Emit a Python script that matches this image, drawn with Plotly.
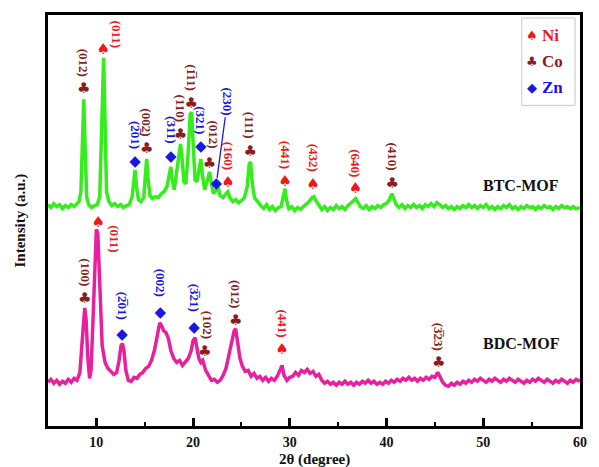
import plotly.graph_objects as go

# ---------------- XRD patterns ----------------
# BTC-MOF (upper pattern), intensity in a.u.
tt_btc = [5.0, 5.3, 5.6, 5.9, 6.2, 6.5, 6.8, 7.1, 7.4, 7.7, 8.0, 8.2, 8.4, 8.55, 8.7, 8.85, 9.0, 9.2,
          9.5, 9.8, 10.1, 10.35, 10.55, 10.75, 10.9, 11.05, 11.3, 11.6, 11.9, 12.2, 12.5, 12.8, 13.1,
          13.4, 13.7, 13.85, 14.0, 14.15, 14.35, 14.6, 14.9, 15.05, 15.2, 15.35, 15.55, 15.8, 16.1,
          16.4, 16.7, 17.0, 17.3, 17.55, 17.7, 17.85, 18.05, 18.3, 18.55, 18.7, 18.85, 19.05, 19.25,
          19.5, 19.7, 19.85, 20.0, 20.2, 20.4, 20.65, 20.8, 20.95, 21.2, 21.5, 21.7, 21.9, 22.1, 22.4,
          22.6, 22.8, 23.1, 23.4, 23.6, 23.8, 24.1, 24.4, 24.7, 25.0, 25.3, 25.6, 25.8, 25.95, 26.1,
          26.35, 26.7, 27.0, 27.3, 27.6, 27.9, 28.2, 28.5, 28.8, 29.1, 29.35, 29.5, 29.65, 29.9, 30.2,
          30.5, 30.8, 31.1, 31.4, 31.7, 32.0, 32.3, 32.5, 32.7, 33.0, 33.3, 33.6, 33.9, 34.2, 34.5,
          34.8, 35.1, 35.4, 35.7, 36.0, 36.3, 36.6, 36.8, 37.0, 37.3, 37.6, 37.9, 38.2, 38.5, 38.8,
          39.1, 39.4, 39.7, 40.0, 40.3, 40.55, 40.75, 41.0, 41.3, 41.6, 41.9, 42.2, 42.5, 42.8, 43.1,
          43.4, 43.7, 44.0, 44.3, 44.6, 44.9, 45.2, 45.5, 45.8, 46.1, 46.4, 46.7, 47.0, 47.3, 47.6,
          47.9, 48.2, 48.5, 48.8, 49.1, 49.4, 49.7, 50.0, 50.3, 50.6, 50.9, 51.2, 51.5, 51.8, 52.1,
          52.4, 52.7, 53.0, 53.3, 53.6, 53.9, 54.2, 54.5, 54.8, 55.1, 55.4, 55.7, 56.0, 56.3, 56.6,
          56.9, 57.2, 57.5, 57.8, 58.1, 58.4, 58.7, 59.0, 59.3, 59.6, 60.0]
int_btc = [17, 14, 18, 15, 17, 13, 16, 14, 17, 15, 18, 20, 30, 80, 123, 70, 25, 17,
           14, 16, 17, 25, 100, 165, 100, 30, 20, 16, 18, 15, 17, 14, 16,
           17, 25, 40, 52, 35, 22, 20, 24, 45, 63, 42, 26, 23, 25,
           24, 28, 30, 35, 48, 55, 42, 32, 50, 70, 78, 65, 40, 38,
           70, 108, 110, 80, 42, 40, 55, 63, 48, 32, 42, 50, 38, 28, 32,
           34, 26, 24, 28, 30, 24, 20, 22, 19, 21, 24, 35, 58, 60, 40,
           24, 19, 16, 13, 17, 12, 15, 11, 14, 15, 25, 33, 22, 13, 15,
           11, 14, 12, 15, 17, 20, 24, 25, 21, 16, 12, 15, 11, 14, 12,
           16, 13, 15, 12, 16, 18, 21, 23, 20, 15, 13, 16, 12, 15, 13,
           16, 14, 17, 18, 22, 28, 24, 17, 14, 17, 13, 16, 14, 17, 14,
           16, 13, 17, 15, 18, 15, 19, 17, 14, 16, 13, 15, 12, 15, 13,
           16, 14, 17, 14, 16, 13, 16, 14, 17, 13, 15, 12, 15, 13, 16,
           14, 17, 13, 15, 12, 15, 13, 16, 14, 15, 12, 15, 13, 16, 14,
           15, 12, 15, 13, 16, 14, 15, 13, 15, 13, 14]

# BDC-MOF (lower pattern), intensity in a.u.
tt_bdc = [5.0, 5.3, 5.6, 5.9, 6.2, 6.5, 6.8, 7.1, 7.4, 7.7, 8.0, 8.3, 8.5, 8.7, 8.8, 8.95, 9.1, 9.3,
          9.45, 9.65, 9.85, 10.0, 10.15, 10.35, 10.6, 10.9, 11.2, 11.5, 11.8, 12.1, 12.35, 12.55,
          12.7, 12.85, 13.05, 13.3, 13.6, 13.9, 14.2, 14.5, 14.8, 15.1, 15.4, 15.7, 16.0, 16.3,
          16.55, 16.75, 16.95, 17.2, 17.45, 17.7, 18.0, 18.3, 18.6, 18.9, 19.2, 19.5, 19.8, 20.0,
          20.2, 20.4, 20.6, 20.8, 21.0, 21.3, 21.6, 21.9, 22.2, 22.5, 22.8, 23.1, 23.4, 23.7, 24.0,
          24.25, 24.4, 24.6, 24.85, 25.1, 25.4, 25.7, 26.0, 26.3, 26.6, 26.9, 27.2, 27.5, 27.8, 28.1,
          28.4, 28.7, 29.0, 29.2, 29.4, 29.7, 30.0, 30.3, 30.6, 30.9, 31.2, 31.5, 31.8, 32.1, 32.4,
          32.7, 33.0, 33.3, 33.6, 33.9, 34.2, 34.5, 34.8, 35.1, 35.4, 35.7, 36.0, 36.3, 36.6, 36.9,
          37.2, 37.5, 37.8, 38.1, 38.4, 38.7, 39.0, 39.3, 39.6, 39.9, 40.2, 40.5, 40.8, 41.1, 41.4,
          41.7, 42.0, 42.3, 42.6, 42.9, 43.2, 43.5, 43.8, 44.1, 44.4, 44.7, 45.0, 45.3, 45.5, 45.8,
          46.1, 46.4, 46.7, 47.0, 47.3, 47.6, 47.9, 48.2, 48.5, 48.8, 49.1, 49.4, 49.7, 50.0, 50.3,
          50.6, 50.9, 51.2, 51.5, 51.8, 52.1, 52.4, 52.7, 53.0, 53.3, 53.6, 53.9, 54.2, 54.5, 54.8,
          55.1, 55.4, 55.7, 56.0, 56.3, 56.6, 56.9, 57.2, 57.5, 57.8, 58.1, 58.4, 58.7, 59.0, 59.3,
          59.6, 60.0]
int_bdc = [18, 21, 17, 20, 16, 19, 17, 21, 18, 22, 20, 28, 55, 88, 93, 80, 45, 22,
           30, 80, 150, 172, 168, 110, 55, 38, 32, 29, 26, 28, 40, 55,
           57, 50, 30, 20, 19, 23, 22, 26, 28, 32, 34, 40, 50, 65,
           78, 75, 70, 68, 62, 50, 42, 38, 40, 35, 38, 42, 50, 60,
           63, 52, 42, 38, 40, 30, 24, 20, 21, 18, 20, 25, 32, 45, 60,
           70, 72, 60, 42, 34, 29, 30, 24, 27, 22, 24, 20, 23, 19, 22,
           20, 24, 32, 35, 25, 20, 23, 24, 28, 25, 30, 28, 31, 27, 29,
           24, 26, 20, 17, 19, 16, 18, 15, 18, 16, 19, 16, 18, 15, 18,
           16, 19, 17, 20, 17, 19, 16, 18, 16, 19, 17, 20, 18, 21, 19,
           22, 20, 23, 20, 22, 19, 22, 20, 23, 21, 24, 23, 28, 24, 18,
           15, 14, 17, 15, 18, 16, 19, 17, 20, 18, 21, 19, 22, 20, 18,
           21, 19, 22, 20, 18, 21, 19, 22, 20, 18, 21, 19, 17, 20, 18,
           21, 19, 22, 20, 18, 21, 19, 17, 20, 18, 21, 19, 17, 20, 18,
           21, 19]

BTC_OFFSET = 180  # vertical stacking of the upper pattern

# ---------------- indexed reflections ----------------
btc_ref_pos = [8.7, 10.7, 14.0, 15.2, 17.7, 18.7, 19.8, 20.8, 21.7, 22.4, 23.6, 25.9,
               29.5, 32.4, 36.8, 40.6]
btc_ref_mark = [133, 173, 60, 73, 65, 87, 118, 75, 58, 38, 39, 70, 40, 37, 32, 38]
btc_ref_phase = ["Co", "Ni", "Zn", "Co", "Zn", "Co", "Co", "Zn", "Co", "Zn", "Ni", "Co",
                 "Ni", "Ni", "Ni", "Co"]
btc_ref_hkl = ["(012)", "(011)", "(2\u030501)", "(002)", "(311)", "(110)", "(1\u030511)",
               "(321)", "(012)", "(230)", "(160)", "(111)", "(441)", "(432)", "(640)", "(410)"]

bdc_ref_pos = [8.8, 10.2, 12.65, 16.6, 20.1, 21.2, 24.4, 29.2, 45.4]
bdc_ref_mark = [102, 178, 65, 88, 72, 48, 80, 50, 37]
bdc_ref_phase = ["Co", "Ni", "Zn", "Zn", "Zn", "Co", "Co", "Ni", "Co"]
bdc_ref_hkl = ["(100)", "(011)", "(2\u030501)", "(002)", "(3\u030521)", "(102)", "(012)",
               "(441)", "(3\u030523)"]

phases = ["Ni", "Co", "Zn"]

# ---------------- styling ----------------
GREEN = "#34EE1C"
PINK = "#E8209E"
phase_color = {"Ni": "#F01818", "Co": "#8A1E1E", "Zn": "#1818E0"}
phase_symbol = {"Ni": "\u2660", "Co": "\u2663", "Zn": "\u25C6"}
SERIF = "Liberation Serif, Times New Roman, serif"
SYM_FONT = "DejaVu Sans"

# label offsets (px) relative to the phase symbol: (xshift, yshift)
btc_nudge = {1: (13, 16), 8: (4, 30), 9: None}
bdc_nudge = {1: (16, -15), 2: (0, 30), 3: (0, 30), 4: (0, 31), 5: (3, 28)}

fig = go.Figure()

fig.add_trace(go.Scatter(x=tt_bdc, y=int_bdc, mode="lines",
                         line=dict(color=PINK, width=3.5), showlegend=False))
fig.add_trace(go.Scatter(x=tt_btc, y=[v + BTC_OFFSET for v in int_btc], mode="lines",
                         line=dict(color=GREEN, width=3.5), showlegend=False))

annotations = []


def add_reflections(pos, mark, phase, hkl, offset, nudge):
    for ph in phases:
        idx = [i for i, p in enumerate(phase) if p == ph]
        fig.add_trace(go.Scatter(
            x=[pos[i] for i in idx], y=[mark[i] + offset for i in idx],
            mode="text", text=[phase_symbol[ph]] * len(idx),
            textposition="middle center",
            textfont=dict(family=SYM_FONT, size=15, color=phase_color[ph]),
            showlegend=False, hoverinfo="skip"))
    for i in range(len(pos)):
        col = phase_color[phase[i]]
        if i in nudge and nudge[i] is None:
            # label lifted off the crowded region with a leader line
            annotations.append(dict(
                x=pos[i], y=mark[i] + offset, xref="x", yref="y",
                text="<b>%s</b>" % hkl[i], textangle=90,
                font=dict(family=SERIF, size=13, color=col),
                showarrow=True, arrowhead=0, arrowwidth=1.3, arrowcolor=col,
                ax=11, ay=-82, standoff=6))
            continue
        xs, ys = nudge.get(i, (0, 27))
        annotations.append(dict(
            x=pos[i], y=mark[i] + offset, xref="x", yref="y",
            text="<b>%s</b>" % hkl[i], textangle=90,
            font=dict(family=SERIF, size=13, color=col),
            showarrow=False, xanchor="center", yanchor="middle",
            xshift=xs, yshift=ys))


add_reflections(bdc_ref_pos, bdc_ref_mark, bdc_ref_phase, bdc_ref_hkl, 0, bdc_nudge)
add_reflections(btc_ref_pos, btc_ref_mark, btc_ref_phase, btc_ref_hkl, BTC_OFFSET, btc_nudge)

# sample names
annotations.append(dict(x=53.9, y=BTC_OFFSET + 36, xref="x", yref="y", text="<b>BTC-MOF</b>",
                        showarrow=False, font=dict(family=SERIF, size=16, color="#111111")))
annotations.append(dict(x=53.9, y=57, xref="x", yref="y", text="<b>BDC-MOF</b>",
                        showarrow=False, font=dict(family=SERIF, size=16, color="#111111")))

# phase key
L, W, B, H = 48, 539, 426, 414
key_rows = [("Ni", 33), ("Co", 59), ("Zn", 85)]
for ph, py in key_rows:
    annotations.append(dict(x=(538 - L) / W, y=(B - py) / H, xref="paper", yref="paper",
                            text=phase_symbol[ph], showarrow=False,
                            font=dict(family=SYM_FONT, size=13, color=phase_color[ph]),
                            xanchor="center", yanchor="middle"))
    annotations.append(dict(x=(546 - L) / W, y=(B - py) / H, xref="paper", yref="paper",
                            text="<b>%s</b>" % ph, showarrow=False,
                            font=dict(family=SERIF, size=17, color=phase_color[ph]),
                            xanchor="left", yanchor="middle"))

# axis titles
annotations.append(dict(x=0, y=0.5, xref="paper", yref="paper", xshift=-28,
                        text="<b>Intensity (a.u.)</b>", textangle=-90, showarrow=False,
                        font=dict(family=SERIF, size=15, color="#111111"),
                        xanchor="center", yanchor="middle"))
annotations.append(dict(x=0.5, y=0, xref="paper", yref="paper", yshift=-33,
                        text="<b>2\u03b8 (degree)</b>", showarrow=False,
                        font=dict(family=SERIF, size=15, color="#111111"),
                        xanchor="center", yanchor="middle"))

fig.update_layout(
    width=599, height=467,
    margin=dict(l=48, r=12, t=12, b=41),
    paper_bgcolor="white", plot_bgcolor="white",
    showlegend=False,
    annotations=annotations,
    shapes=[dict(type="rect", xref="paper", yref="paper",
                 x0=(528 - L) / W, x1=(582 - L) / W, y0=(B - 103) / H, y1=(B - 15) / H,
                 line=dict(color="#C8C8C8", width=1), fillcolor="white", layer="below")],
    xaxis=dict(range=[5, 60], tick0=0, dtick=10, ticks="inside", ticklen=8, tickwidth=2.5,
               tickcolor="black", showgrid=False, zeroline=False,
               showline=True, linecolor="black", linewidth=3, mirror=True,
               tickfont=dict(family=SERIF, size=14, color="#111111"),
               tickprefix="<b>", ticksuffix="</b>", ticklabelstandoff=1,
               minor=dict(ticks="inside", tick0=5, dtick=10, ticklen=4, tickwidth=2,
                          tickcolor="black", showgrid=False)),
    yaxis=dict(range=[-26, 388], showticklabels=False, ticks="", showgrid=False,
               zeroline=False, showline=True, linecolor="black", linewidth=3, mirror=True),
)

fig.write_html("out.html")
